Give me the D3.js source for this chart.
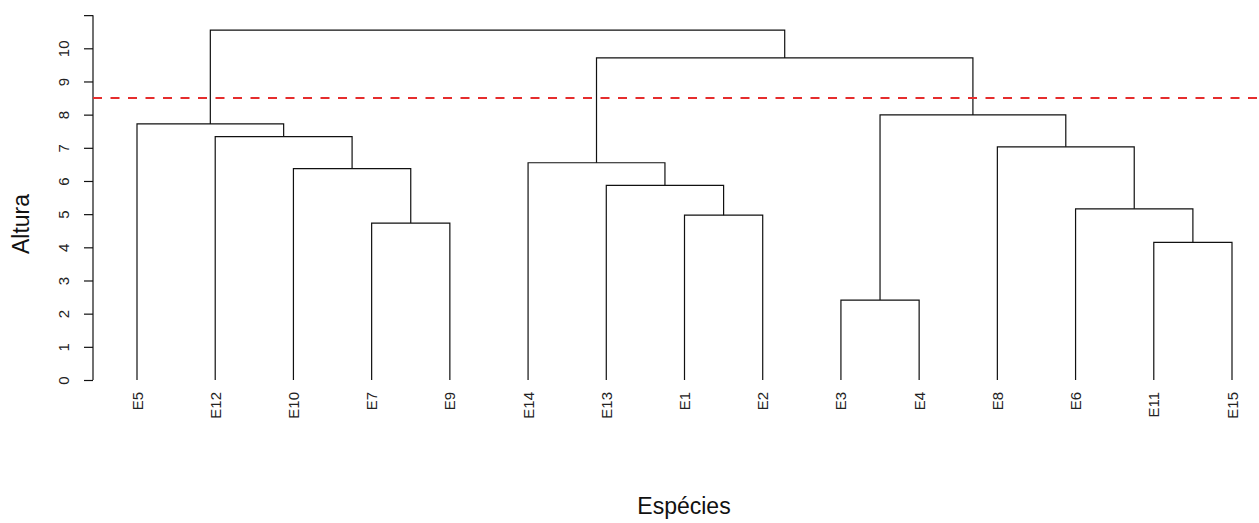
<!DOCTYPE html>
<html>
<head>
<meta charset="utf-8">
<script src="https://cdn.jsdelivr.net/npm/d3@7"></script>
<style>
  body { margin: 0; background: #fff; }
  svg { display: block; font-family: "Liberation Sans", Arial, sans-serif; }
</style>
</head>
<body>
<div id="chart"></div>
<script>
// leaf order along the x axis
const leafOrder = ["E5", "E12", "E10", "E7", "E9", "E14", "E13", "E1", "E2", "E3", "E4", "E8", "E6", "E11", "E15"];

// merge steps: names are leaves, "m#" refers to an earlier merge (1-based)
const mergeLeft   = ["E3", "E11", "E7", "E1", "E6", "E13", "E10", "E14", "E8", "E12", "E5", "m1", "m8", "m11"];
const mergeRight  = ["E4", "E15", "E9", "E2", "m2", "m4", "m3", "m6", "m5", "m7", "m10", "m9", "m12", "m13"];
const mergeHeight = [2.41, 4.15, 4.73, 4.97, 5.16, 5.87, 6.37, 6.55, 7.03, 7.34, 7.72, 7.99, 9.71, 10.55];

const yTicks = [0, 1, 2, 3, 4, 5, 6, 7, 8, 9, 10, 11];
const yTickLabels = ["0", "1", "2", "3", "4", "5", "6", "7", "8", "9", "10", ""];
const cutHeight = 8.5;

const width = 1259, height = 523;

const svg = d3.select("#chart").append("svg")
  .attr("width", width)
  .attr("height", height);

const xScale = d3.scalePoint()
  .domain(leafOrder)
  .range([137, 1232]);

const yScale = d3.scaleLinear()
  .domain([0, 10])
  .range([380, 48.3]);

// build node positions
const nodes = {};
leafOrder.forEach(function(name) {
  nodes[name] = { x: xScale(name), h: 0 };
});
mergeLeft.forEach(function(l, i) {
  const a = nodes[l], b = nodes[mergeRight[i]];
  nodes["m" + (i + 1)] = { x: (a.x + b.x) / 2, h: mergeHeight[i], left: a, right: b };
});

// draw the dendrogram
const g = svg.append("g");
mergeLeft.forEach(function(l, i) {
  const n = nodes["m" + (i + 1)];
  const yTop = yScale(n.h);
  const path = "M" + n.left.x + "," + yScale(n.left.h) +
    "V" + yTop + "H" + n.right.x + "V" + yScale(n.right.h);
  g.append("path")
    .attr("d", path)
    .attr("fill", "none")
    .attr("stroke", "#111")
    .attr("stroke-width", 1.2);
});

// y axis
const yAxis = svg.append("g")
  .attr("transform", "translate(93,0)")
  .call(d3.axisLeft(yScale)
    .tickValues(yTicks)
    .tickSize(9)
    .tickFormat(function(d, i) { return yTickLabels[i]; }));

yAxis.select(".domain")
  .attr("d", "M0," + yScale(11) + "V" + yScale(0))
  .attr("stroke", "#111")
  .attr("stroke-width", 1.2);
yAxis.selectAll(".tick line").attr("stroke", "#111").attr("stroke-width", 1.2);
yAxis.selectAll(".tick text")
  .attr("x", 0)
  .attr("y", 0)
  .attr("dy", null)
  .attr("transform", "translate(-30,0) rotate(-90)")
  .attr("text-anchor", "middle")
  .attr("dominant-baseline", "central")
  .style("font-size", "15px")
  .style("font-family", "Liberation Sans, Arial, sans-serif")
  .attr("fill", "#222");

// leaf labels
svg.selectAll("text.leaf")
  .data(leafOrder)
  .enter().append("text")
  .attr("class", "leaf")
  .attr("transform", function(d) { return "translate(" + xScale(d) + ",392) rotate(-90)"; })
  .attr("text-anchor", "end")
  .attr("dominant-baseline", "central")
  .style("font-size", "15px")
  .attr("fill", "#222")
  .text(function(d) { return d; });

// cut line
svg.append("line")
  .attr("x1", 93)
  .attr("x2", width)
  .attr("y1", yScale(cutHeight))
  .attr("y2", yScale(cutHeight))
  .attr("stroke", "#e52d2d")
  .attr("stroke-width", 2)
  .attr("stroke-dasharray", "9,8.5");

// axis titles
svg.append("text")
  .attr("transform", "translate(21,224) rotate(-90)")
  .attr("text-anchor", "middle")
  .attr("dominant-baseline", "central")
  .style("font-size", "23px")
  .attr("fill", "#111")
  .text("Altura");

svg.append("text")
  .attr("x", 684)
  .attr("y", 514)
  .attr("text-anchor", "middle")
  .style("font-size", "23px")
  .attr("fill", "#111")
  .text("Espécies");
</script>
</body>
</html>
